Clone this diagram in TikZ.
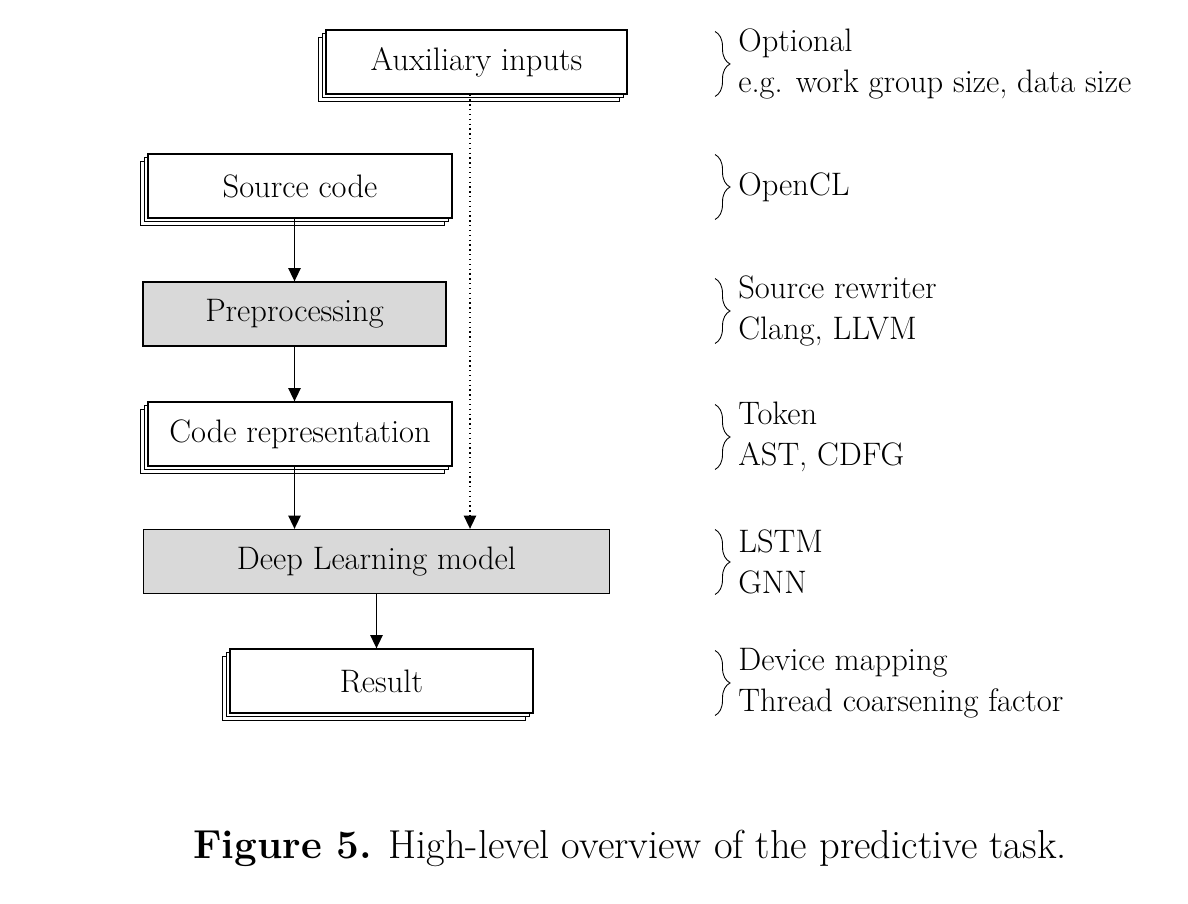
\documentclass[tikz,border=0pt]{standalone}
\usepackage{amsmath,amssymb}
\usetikzlibrary{arrows.meta,calc,shadows,decorations.pathreplacing,positioning}

\tikzset{
  box/.style={draw, line width=0.75pt, fill=white, inner sep=0pt,
    minimum height=1.28cm, font=\fontsize{18.5}{21}\selectfont},
  stack/.style={box, double copy shadow={shadow xshift=-0.075cm, shadow yshift=-0.075cm}},
  stage/.style={box, fill=black!15},
  note/.style={anchor=west, align=left, inner sep=0pt, font=\fontsize{18.5}{23.3}\selectfont},
  notebrace/.style={decorate, decoration={brace, amplitude=0.3cm}, line width=0.5pt},
  flow/.style={line width=0.75pt, -{Triangle[width=7pt,length=7.5pt]}}
}

\begin{document}
\begin{tikzpicture}[]
      \useasboundingbox (0,0) rectangle (23.76,-18.08);
      % pipeline
      \node[stack, minimum width=6.02cm] (aux)  at (9.53,-1.24)  {Auxiliary inputs};
      \node[stack, minimum width=6.08cm] (src)  at (6.00,-3.72)  {Source code};
      \node[stage, minimum width=6.06cm] (prep) at (5.89,-6.28)  {Preprocessing};
      \node[stack, minimum width=6.08cm] (repr) at (6.00,-8.68)  {Code representation};
      \node[stage, minimum width=9.32cm] (dl)   at (7.53,-11.23) {Deep Learning model};
      \node[stack, minimum width=6.06cm] (res)  at (7.63,-13.62) {Result};

      \draw[flow] (src.south -| prep.south) -- (prep.north);
      \draw[flow] (prep.south) -- (repr.north -| prep.south);
      \draw[flow] (repr.south -| prep.south) -- (dl.north -| prep.south);
      \draw[flow, dotted] ([xshift=-0.13cm]aux.south) -- ([xshift=-0.13cm]aux.south |- dl.north);
      \draw[flow] (dl.south) -- (res.north -| dl.south);

      % notes on the right
      \node[note] (naux)  at (14.76,-1.28)  {Optional\\e.g. work group size, data size};
      \node[note] (nsrc)  at (14.76,-3.74)  {OpenCL};
      \node[note] (nprep) at (14.76,-6.22)  {Source rewriter\\Clang, LLVM};
      \node[note] (nrepr) at (14.76,-8.74)  {Token\\AST, CDFG};
      \node[note] (ndl)   at (14.76,-11.24) {LSTM\\GNN};
      \node[note] (nres)  at (14.76,-13.66) {Device mapping\\Thread coarsening factor};
      \foreach \n in {naux,nsrc,nprep,nrepr,ndl,nres} {
        \draw[notebrace] ([shift={(-0.46,0.65)}]\n.west) -- ([shift={(-0.46,-0.65)}]\n.west);
      }

      % caption
      \node[anchor=base, font=\fontsize{23}{27}\selectfont] (cap) at (12.6,-17.16)
        {\textbf{Figure 5.} High-level overview of the predictive task.};
    \end{tikzpicture}
\end{document}
